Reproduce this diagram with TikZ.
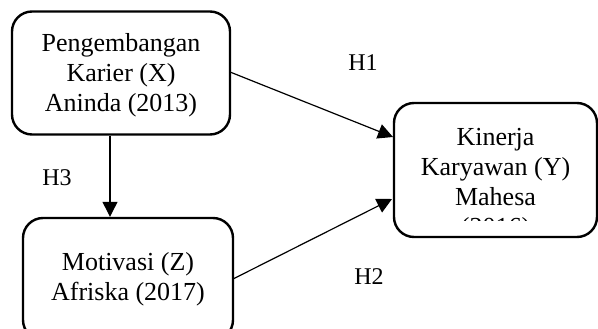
\documentclass[tikz,border=0pt]{standalone}
\usepackage{fontspec}
\setmainfont{Liberation Serif}
\usetikzlibrary{arrows.meta}
\begin{document}
\begin{tikzpicture}[x=1pt,y=-1pt,
  box/.style={draw,line width=2.4pt,rounded corners=20pt,inner sep=0pt},
  boxtext/.style={align=center,font=\fontsize{26}{30}\selectfont},
  lbl/.style={font=\fontsize{24}{28}\selectfont,inner sep=0pt},
  conn/.style={line width=1.2pt,-{Triangle[length=15pt,width=15pt]}}]
\useasboundingbox (0,0) rectangle (598,329);
\clip (0,0) rectangle (598,329);
% boxes
\node[box,minimum width=218pt,minimum height=123pt] (X) at (121,73) {};
\node[boxtext] (Xt) at (121,75) {Pengembangan\\Karier (X)\\Aninda (2013)};
\node[box,minimum width=210pt,minimum height=122pt] (Z) at (128,279) {};
\node[boxtext] (Zt) at (128,279) {Motivasi (Z)\\Afriska (2017)};
\node[box,minimum width=203pt,minimum height=134pt] (Y) at (495.5,170) {};
\begin{scope}
  \clip (400,110) rectangle (590,220);
  \node[boxtext,anchor=north] (Yt) at (495.5,125) {Kinerja\\Karyawan (Y)\\Mahesa\\(2016)};
\end{scope}
% connector ends
\coordinate (h1s) at (230,72);
\coordinate (h1e) at (393,137);
\coordinate (h2s) at (233,279);
\coordinate (h2e) at (392,199);
\coordinate (hx) at (110,0);
\draw[conn] (h1s) -- (h1e);
\draw[conn] (h2s) -- (h2e);
\draw[conn] (X.south -| hx) -- (Z.north -| hx);
% labels
\node[lbl] (H1) at (363,63) {H1};
\node[lbl] (H3) at (57,178) {H3};
\node[lbl] (H2) at (369,277) {H2};
\end{tikzpicture}
\end{document}
